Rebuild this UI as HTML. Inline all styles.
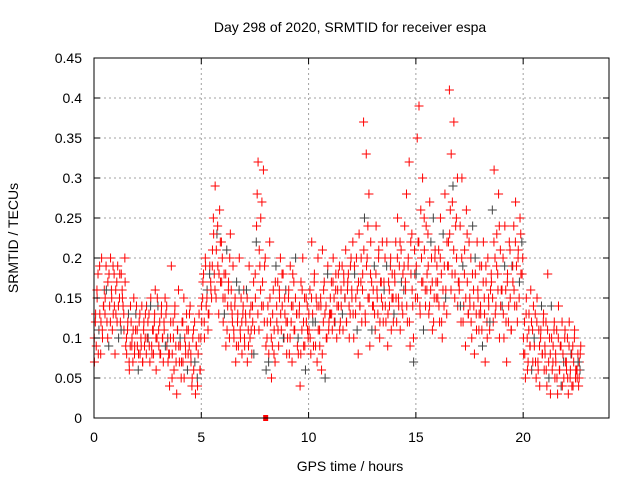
<!DOCTYPE html>
<html><head><meta charset="utf-8"><style>
body{margin:0;background:#fff;}
svg text{font-family:"Liberation Sans",sans-serif;font-size:14px;fill:#000;}
</style></head><body>
<svg id="chart" width="640" height="480">
<rect width="640" height="480" fill="#fff"/>
<g id="grid"></g><g id="pts"></g><g id="axes"></g>
</svg>
<script>
const xTicks=[0,5,10,15,20];
const yTicks=[0,0.05,0.1,0.15,0.2,0.25,0.3,0.35,0.4,0.45];
const yTickLabels=["0","0.05","0.1","0.15","0.2","0.25","0.3","0.35","0.4","0.45"];
const binStart=[0,0.5,1,1.5,2,2.5,3,3.5,4,4.5,5,5.5,6,6.5,7,7.5,8,8.5,9,9.5,10,10.5,11,11.5,12,12.5,13,13.5,14,14.5,15,15.5,16,16.5,17,17.5,18,18.5,19,19.5,20,20.5,21,21.5,22,22.5];
const binVals=[
[7,12,9,15,18,11,13,8,20,10,14,16],[15,19,12,17,9,14,20,16,11,13,18,8],[13,17,19,10,15,12,18,16,14,11,20,9],
[8,11,13,6,9,12,10,7,15,9,11,14],[9,6,12,8,10,14,7,11,9,13,8,10],[10,13,7,15,9,11,8,12,16,6,10,14],
[9,12,8,14,10,7,11,15,13,9,10,8],[4,10,19,8,12,6,14,9,3,11,16,7],[9,5,12,7,15,10,8,13,6,11,9,14],
[7,4,10,6,12,3,9,5,8,13,6,10],[12,15,18,10,20,14,16,11,13,19,17,15],[21,25,18,29,15,23,19,13,26,17,22,20],
[12,18,15,9,21,14,17,10,23,16,13,19],[10,14,7,17,12,9,20,11,15,8,13,16],[9,13,16,7,11,19,10,14,8,12,17,11],
[15,22,28,32,11,19,25,14,17,31,12,20],[6,10,14,8,22,12,5,9,16,11,7,19],[12,17,9,15,20,11,14,18,10,13,16,8],
[10,15,8,19,12,7,14,17,11,20,13,9],[8,13,4,17,11,20,9,15,6,12,14,10],[11,16,8,22,13,9,18,12,15,7,20,14],
[9,15,6,21,12,17,5,14,10,19,11,13],[13,17,11,20,15,12,18,10,16,14,19,12],[14,19,11,17,15,21,12,16,18,10,13,20],
[15,22,10,18,13,20,16,8,23,14,17,12],[18,37,25,12,33,20,15,28,9,22,17,14],[14,19,11,24,16,13,21,10,17,15,22,12],
[16,20,12,22,9,17,14,19,11,18,15,13],[17,22,12,25,15,19,11,21,14,18,16,24],[16,28,12,20,32,9,18,23,14,7,21,15],
[19,35,22,39,14,26,17,30,11,21,16,24],[18,23,13,27,16,20,11,25,15,21,17,19],[15,21,12,25,18,10,23,14,28,16,13,19],
[22,41,26,33,18,29,37,15,24,20,30,17],[16,24,12,30,19,14,21,9,26,17,13,22],[14,20,10,24,16,8,18,13,22,15,11,19],
[13,19,9,22,15,7,17,12,20,14,11,16],[17,26,12,31,20,14,23,18,28,10,21,16],[14,20,10,24,16,7,18,12,22,15,11,19],
[17,24,14,27,19,12,21,15,25,18,22,20],[8,12,5,15,10,7,13,9,16,6,11,14],[9,13,5,15,7,11,4,10,14,8,12,6],
[8,12,4,18,7,10,3,14,6,9,11,5],[7,11,3,14,6,9,4,12,8,5,10,7],[6,10,3,12,5,8,4,9,7,11,5,6],[5,8,4,7,6,9]];
const binVals2=[
[10,13,16,8,19,12,11,14],[13,16,10,18,12,15,19,14],[16,12,14,18,11,15,13,17],[10,12,7,14,9,11,8,13],
[11,8,13,9,7,12,10,14],[12,9,14,8,11,13,10,15],[11,8,13,10,12,9,14,7],[8,12,5,10,13,7,11,9],
[10,7,12,5,9,11,8,13],[8,5,11,7,9,4,10,6],[14,17,12,19,15,13,18,16],[19,23,16,21,24,18,22,17],
[15,13,18,11,16,20,14,12],[11,15,9,13,16,10,12,14],[10,12,15,9,13,11,14,8],[18,24,13,21,16,27,14,19],
[9,12,7,15,10,13,8,17],[14,11,16,13,18,10,15,12],[12,16,10,14,18,11,15,13],[10,14,8,16,12,9,15,11],
[13,10,15,12,17,9,14,11],[11,14,8,16,13,10,18,12],[15,13,17,12,16,14,18,11],[16,13,18,15,12,17,14,19],
[16,13,19,15,11,17,14,20],[16,21,13,19,24,15,18,11],[16,13,18,15,20,12,17,14],[17,14,19,13,16,20,15,12],
[18,15,20,14,22,17,13,19],[17,14,19,12,22,16,10,18],[18,15,22,13,20,17,25,14],[16,19,14,22,17,12,20,15],
[17,14,20,12,16,19,15,22],[19,23,16,27,21,18,25,14],[17,14,20,12,18,15,23,13],[15,12,18,14,20,11,16,13],
[14,11,17,13,19,10,15,12],[18,15,22,13,19,16,24,14],[16,13,19,12,17,14,21,11],[19,16,22,14,20,17,23,18],
[10,8,13,6,11,9,12,7],[10,7,12,6,9,11,8,13],[9,6,11,5,8,10,7,12],[8,5,10,6,9,4,7,11],
[7,5,9,6,8,4,10,6],[6,7,5,8]];
const gapMarkTime=[8];
const L=94,R=609,T=58,B=418,XMAX=24,YMAX=0.45;
const sx=v=>L+v/XMAX*(R-L), sy=v=>B-v/YMAX*(B-T);
const NS="http://www.w3.org/2000/svg";
function mk(tag,attrs,parent){const e=document.createElementNS(NS,tag);for(const k in attrs)e.setAttribute(k,attrs[k]);parent.appendChild(e);return e;}
const grid=document.getElementById('grid'),pts=document.getElementById('pts'),axes=document.getElementById('axes');
yTicks.forEach((v,i)=>{
  if(i>0&&i<yTicks.length-1){const g=mk('line',{x1:L,x2:R,y1:sy(v),y2:sy(v),stroke:'#a0a0a0','stroke-dasharray':'2,3'},grid);
  
  }
  mk('line',{x1:L,x2:L+6,y1:sy(v),y2:sy(v),stroke:'#000'},axes);
  mk('line',{x1:R,x2:R-6,y1:sy(v),y2:sy(v),stroke:'#000'},axes);
  const t=mk('text',{x:L-12,y:sy(v)+5,'text-anchor':'end'},axes);t.textContent=yTickLabels[i];
  
  
});
xTicks.forEach(v=>{
  if(v>0){const g=mk('line',{x1:sx(v),x2:sx(v),y1:T,y2:B,stroke:'#a0a0a0','stroke-dasharray':'2,3'},grid);
  
  }
  mk('line',{x1:sx(v),x2:sx(v),y1:B,y2:B-6,stroke:'#000'},axes);
  mk('line',{x1:sx(v),x2:sx(v),y1:T,y2:T+6,stroke:'#000'},axes);
  const t=mk('text',{x:sx(v),y:B+24,'text-anchor':'middle'},axes);t.textContent=String(v);
  
  
});
let k=0;
function drawSet(sets,shift){
  binStart.forEach((b,bi)=>{
    const vals=sets[bi],n=vals.length,w=(bi===binStart.length-1)?0.2:0.5;
    vals.forEach((v,i)=>{
      const x=sx(b+(i+shift)/n*w),y=sy(v/100);
      const col=(k%11===5)?'#404040':'#ff0000';
      const p=mk('path',{d:`M${x-4.5},${y}h9M${x},${y-4.5}v9`,stroke:col,'stroke-width':1,fill:'none'},pts);
      
      
      k++;
    });
  });
}
drawSet(binVals,0.5);
drawSet(binVals2,0.2);
gapMarkTime.forEach(t=>{const r=mk('rect',{x:sx(t)-2.5,y:B-3,width:5,height:6,fill:'#ff0000'},pts);
  
  });
const bx=mk('rect',{x:L,y:T,width:R-L,height:B-T,fill:'none',stroke:'#000'},axes);


const ti=mk('text',{x:350,y:32,'text-anchor':'middle'},axes);ti.textContent='Day 298 of 2020, SRMTID for receiver espa';


const xl=mk('text',{x:350,y:471,'text-anchor':'middle'},axes);xl.textContent='GPS time / hours';


const yl=mk('text',{x:18,y:238,'text-anchor':'middle',transform:'rotate(-90 18 238)'},axes);yl.textContent='SRMTID / TECUs';


</script>
</body></html>
